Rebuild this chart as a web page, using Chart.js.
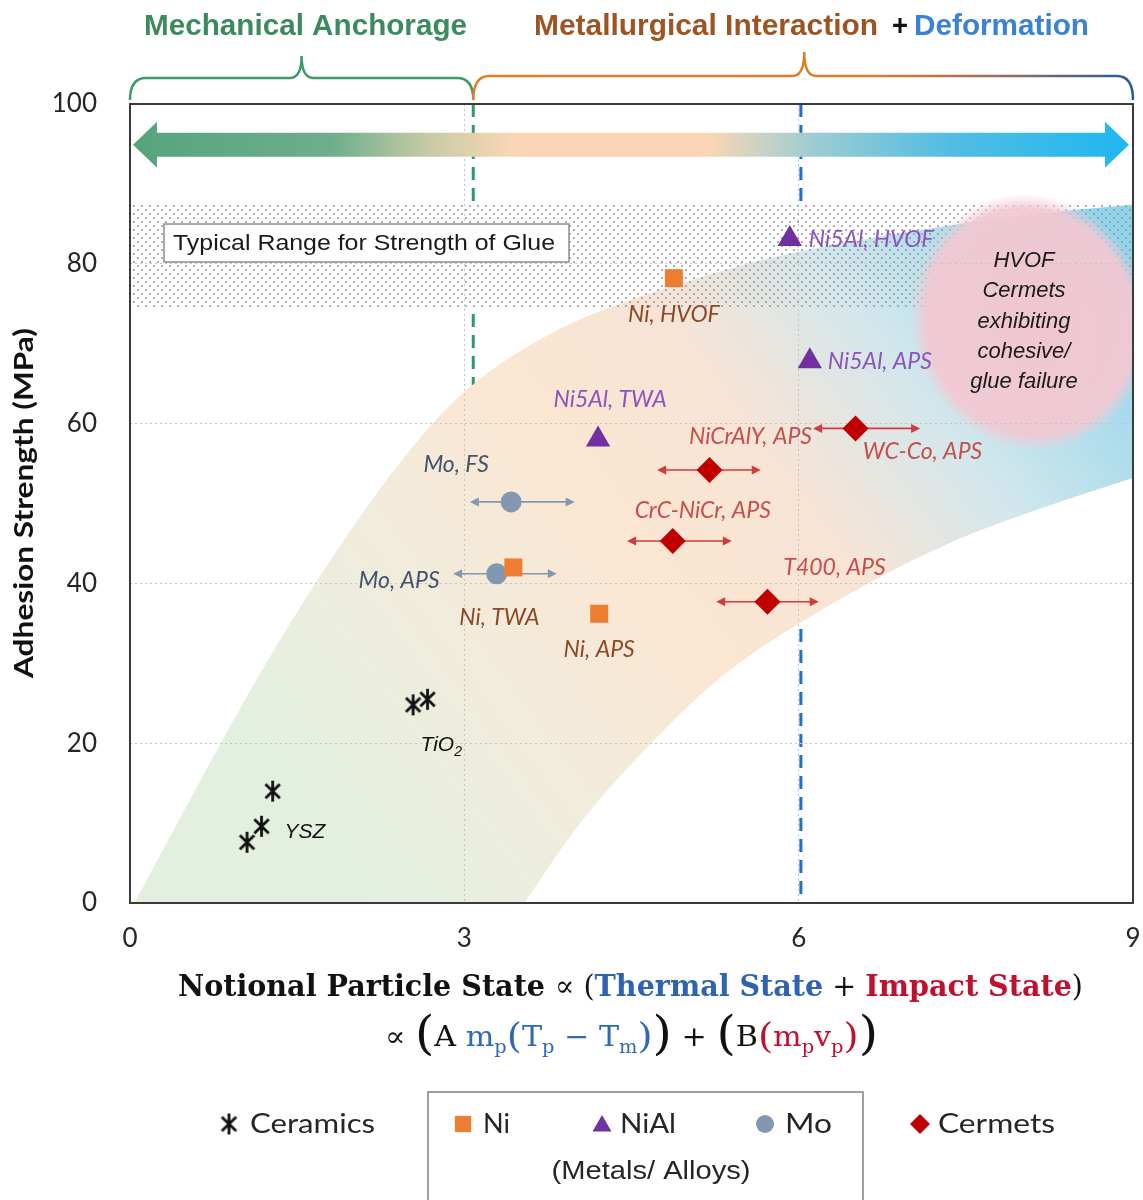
<!DOCTYPE html>
<html>
<head>
<meta charset="utf-8">
<script src="https://cdn.jsdelivr.net/npm/chart.js@4.4.0/dist/chart.umd.min.js"></script>
<style>
  html, body { margin: 0; padding: 0; background: #fff; overflow: hidden; width: 1143px; height: 1200px; }
  canvas { display: block; }
</style>
</head>
<body>
<canvas id="chart" width="1147" height="1200"></canvas>
<script>
// values
const xTicks = [0, 3, 6, 9];
const yTicks = [0, 20, 40, 60, 80, 100];

const ceramicsX = [1.05, 1.18, 1.28, 2.54, 2.67];
const ceramicsY = [7.6, 9.6, 14.0, 24.8, 25.5];

const niX = [4.88, 3.44, 4.21];
const niY = [78.2, 42.0, 36.2];
const niLabels = ['Ni, HVOF', 'Ni, TWA', 'Ni, APS'];

const niAlX = [5.92, 6.10, 4.20];
const niAlY = [83.1, 67.8, 58.0];
const niAlLabels = ['Ni5Al, HVOF', 'Ni5Al, APS', 'Ni5Al, TWA'];

const moX = [3.42, 3.29];
const moY = [50.2, 41.2];
const moLow = [3.05, 2.90];
const moHigh = [3.99, 3.83];
const moLabels = ['Mo, FS', 'Mo, APS'];

const cermetX = [6.51, 5.20, 4.87, 5.72];
const cermetY = [59.4, 54.2, 45.3, 37.7];
const cermetLow = [6.13, 4.73, 4.46, 5.26];
const cermetHigh = [7.09, 5.66, 5.40, 6.18];
const cermetLabels = ['WC-Co, APS', 'NiCrAlY, APS', 'CrC-NiCr, APS', 'T400, APS'];

const glueRange = [74.6, 87.4];
const anchorLimit = 3.08;
const deformLimit = 6.02;

// illustrative band outline (data units)
const bandUpper = [[0.04,0],[0.63,15.4],[1.23,30.4],[1.79,42.9],[2.42,55.4],[3.02,64.8],[3.86,72.3],[4.73,76.7],[5.56,80.2],[6.37,82.6],[7.2,84.5],[7.99,86.1],[9,87.4]];
const bandLower = [[3.54,0],[4.04,10.4],[4.66,19.9],[5.29,28.5],[6.01,35.2],[6.91,42.3],[7.81,47.9],[9,53.2]];

const zip = (xs, ys) => xs.map((x, i) => ({ x: x, y: ys[i] }));

// label placement: dataset index, point index, text, offset, align
const LBL = 'italic 23px Lato';
const labelLayout = [
  { ds: 1, i: 0, text: niLabels[0], dx: 0, dy: 36, align: 'center', color: '#8a4a26' },
  { ds: 1, i: 1, text: niLabels[1], dx: -14, dy: 50, align: 'center', color: '#8a4a26' },
  { ds: 1, i: 2, text: niLabels[2], dx: 0, dy: 36, align: 'center', color: '#8a4a26' },
  { ds: 2, i: 0, text: niAlLabels[0], dx: 19, dy: 1, align: 'left', color: '#8b55bd' },
  { ds: 2, i: 1, text: niAlLabels[1], dx: 18, dy: 0, align: 'left', color: '#8b55bd' },
  { ds: 2, i: 2, text: niAlLabels[2], dx: 12, dy: -40, align: 'center', color: '#8b55bd' },
  { ds: 3, i: 0, text: moLabels[0], dx: -55, dy: -37, align: 'center', color: '#44546a' },
  { ds: 3, i: 1, text: moLabels[1], dx: -57, dy: 7, align: 'right', color: '#44546a' },
  { ds: 4, i: 0, text: cermetLabels[0], dx: 67, dy: 23, align: 'center', color: '#c4504e' },
  { ds: 4, i: 1, text: cermetLabels[1], dx: 41, dy: -33, align: 'center', color: '#c4504e' },
  { ds: 4, i: 2, text: cermetLabels[2], dx: 30, dy: -30, align: 'center', color: '#c4504e' },
  { ds: 4, i: 3, text: cermetLabels[3], dx: 67, dy: -34, align: 'center', color: '#c4504e' }
];

// asterisk marker
function makeAsterisk(size, color) {
  const c = document.createElement('canvas');
  c.width = size; c.height = size;
  const g = c.getContext('2d');
  g.strokeStyle = color; g.lineWidth = 2.8; g.lineCap = 'butt';
  const m = size / 2, r = size / 2 - 1.5;
  g.beginPath();
  g.moveTo(m, 1); g.lineTo(m, size - 1);
  g.moveTo(m - r * 0.72, m - r * 0.7); g.lineTo(m + r * 0.72, m + r * 0.7);
  g.moveTo(m + r * 0.72, m - r * 0.7); g.lineTo(m - r * 0.72, m + r * 0.7);
  g.stroke();
  return c;
}
const asterisk = makeAsterisk(23, '#111');

function fitText(ctx, text, font, color, x, y, width, align) {
  ctx.save();
  ctx.font = font;
  ctx.fillStyle = color;
  ctx.textBaseline = 'middle';
  ctx.textAlign = 'left';
  const w = ctx.measureText(text).width;
  const k = width ? width / w : 1;
  const x0 = align === 'center' ? x - w * k / 2 : align === 'right' ? x - w * k : x;
  ctx.translate(x0, y);
  ctx.scale(k, 1);
  ctx.fillText(text, 0, 0);
  ctx.restore();
}

function richLine(ctx, segs, xL, xR, y) {
  ctx.save();
  let total = 0;
  segs.forEach(s => { ctx.font = s.f; s.w = ctx.measureText(s.t).width; total += s.w; });
  const k = (xR - xL) / total;
  ctx.translate(xL, y);
  ctx.scale(k, 1);
  ctx.textBaseline = 'alphabetic';
  ctx.textAlign = 'left';
  let x = 0;
  segs.forEach(s => {
    ctx.font = s.f; ctx.fillStyle = s.c;
    ctx.fillText(s.t, x, s.dy || 0);
    x += s.w;
  });
  ctx.restore();
}

function smoothTo(ctx, pts) {
  for (let i = 1; i < pts.length - 1; i++) {
    const mx = (pts[i][0] + pts[i + 1][0]) / 2, my = (pts[i][1] + pts[i + 1][1]) / 2;
    ctx.quadraticCurveTo(pts[i][0], pts[i][1], mx, my);
  }
  const l = pts[pts.length - 1];
  ctx.lineTo(l[0], l[1]);
}

function brace(ctx, x0, x1, xt, yEnd, yH, yTip, stroke) {
  ctx.beginPath();
  ctx.moveTo(x0, yEnd);
  ctx.quadraticCurveTo(x0, yH, x0 + 16, yH);
  ctx.lineTo(xt - 12, yH);
  ctx.quadraticCurveTo(xt, yH, xt, yTip);
  ctx.quadraticCurveTo(xt, yH, xt + 12, yH);
  ctx.lineTo(x1 - 16, yH);
  ctx.quadraticCurveTo(x1, yH, x1, yEnd);
  ctx.strokeStyle = stroke;
  ctx.lineWidth = 2.5;
  ctx.stroke();
}

function arrowHead(ctx, x, y, dir, color) {
  ctx.beginPath();
  ctx.moveTo(x, y);
  ctx.lineTo(x - dir * 9, y - 4.5);
  ctx.lineTo(x - dir * 9, y + 4.5);
  ctx.closePath();
  ctx.fillStyle = color;
  ctx.fill();
}

// background layer: region shading behind grid
const backdrop = {
  id: 'backdrop',
  beforeDraw(chart) {
    const { ctx, chartArea: a, scales: { x, y } } = chart;
    ctx.save();
    ctx.fillStyle = '#fff';
    ctx.fillRect(0, 0, chart.width, chart.height);

    ctx.beginPath(); ctx.rect(a.left, a.top, a.right - a.left, a.bottom - a.top); ctx.clip();

    // regime boundaries
    ctx.lineWidth = 3;
    ctx.setLineDash([13, 8]);
    ctx.strokeStyle = '#2e9a6a';
    ctx.beginPath(); ctx.moveTo(x.getPixelForValue(anchorLimit), a.top); ctx.lineTo(x.getPixelForValue(anchorLimit), a.bottom); ctx.stroke();
    ctx.strokeStyle = '#1f6fd0';
    ctx.beginPath(); ctx.moveTo(x.getPixelForValue(deformLimit), a.top); ctx.lineTo(x.getPixelForValue(deformLimit), a.bottom); ctx.stroke();
    ctx.setLineDash([]);

    // glue range, white base
    const gTop = y.getPixelForValue(glueRange[1]), gBot = y.getPixelForValue(glueRange[0]);
    ctx.fillStyle = '#fff';
    ctx.fillRect(a.left, gTop, a.right - a.left, gBot - gTop);

    // shaded band
    const up = bandUpper.map(p => [x.getPixelForValue(p[0]), y.getPixelForValue(p[1])]);
    const lo = bandLower.map(p => [x.getPixelForValue(p[0]), y.getPixelForValue(p[1])]).reverse();
    ctx.beginPath();
    ctx.moveTo(up[0][0], up[0][1]);
    smoothTo(ctx, up);
    ctx.lineTo(lo[0][0], lo[0][1]);
    smoothTo(ctx, lo);
    ctx.closePath();
    const grd = ctx.createLinearGradient(a.left + 170, a.bottom - 100, a.right - 30, a.top + 100);
    grd.addColorStop(0, '#e3f0e0');
    grd.addColorStop(0.22, '#f1ecdc');
    grd.addColorStop(0.42, '#fbe6d2');
    grd.addColorStop(0.58, '#f8e4d5');
    grd.addColorStop(0.74, '#d3e7ec');
    grd.addColorStop(0.88, '#aadcec');
    grd.addColorStop(1, '#8fd4ea');
    ctx.fillStyle = grd;
    ctx.fill();

    // dotted glue pattern
    const pc = document.createElement('canvas');
    pc.width = 8; pc.height = 8;
    const pg = pc.getContext('2d');
    pg.fillStyle = '#9c9c9c';
    pg.beginPath(); pg.arc(2, 2, 1.1, 0, Math.PI * 2); pg.arc(6, 6, 1.1, 0, Math.PI * 2); pg.fill();
    ctx.fillStyle = ctx.createPattern(pc, 'repeat');
    ctx.fillRect(a.left, gTop, a.right - a.left, gBot - gTop);

    // pink failure zone
    ctx.save();
    ctx.translate(1030, 322);
    ctx.rotate(-0.3);
    ctx.scale(1, 1.1);
    const rg = ctx.createRadialGradient(0, 0, 0, 0, 0, 118);
    rg.addColorStop(0, 'rgba(242,198,208,0.98)');
    rg.addColorStop(0.88, 'rgba(242,200,210,0.93)');
    rg.addColorStop(1, 'rgba(242,205,215,0)');
    ctx.fillStyle = rg;
    ctx.beginPath(); ctx.arc(0, 0, 118, 0, Math.PI * 2); ctx.fill();
    ctx.restore();

    ctx.restore();
  }
};

// annotations above grid, below markers
const overlay = {
  id: 'overlay',
  beforeDatasetsDraw(chart) {
    const { ctx, chartArea: a, scales: { x, y } } = chart;
    ctx.save();

    // direction arrow
    const cy = y.getPixelForValue(94.9);
    const L = a.left + 3, R = a.right - 4, hw = 23, sw = 12, hl = 24;
    const ag = ctx.createLinearGradient(L, 0, R, 0);
    ag.addColorStop(0, '#55a47e');
    ag.addColorStop(0.2, '#6fae8c');
    ag.addColorStop(0.3, '#c9cca6');
    ag.addColorStop(0.38, '#f8d6b6');
    ag.addColorStop(0.58, '#f8d6b6');
    ag.addColorStop(0.68, '#9fcdd2');
    ag.addColorStop(0.82, '#52bde3');
    ag.addColorStop(1, '#1fb7ef');
    ctx.fillStyle = ag;
    ctx.beginPath();
    ctx.moveTo(L, cy);
    ctx.lineTo(L + hl, cy - hw);
    ctx.lineTo(L + hl, cy - sw);
    ctx.lineTo(R - hl, cy - sw);
    ctx.lineTo(R - hl, cy - hw);
    ctx.lineTo(R, cy);
    ctx.lineTo(R - hl, cy + hw);
    ctx.lineTo(R - hl, cy + sw);
    ctx.lineTo(L + hl, cy + sw);
    ctx.lineTo(L + hl, cy + hw);
    ctx.closePath();
    ctx.fill();

    // glue label
    ctx.fillStyle = '#fff';
    ctx.strokeStyle = '#8c8c8c';
    ctx.lineWidth = 1.5;
    ctx.fillRect(164, 224, 405, 38);
    ctx.strokeRect(164, 224, 405, 38);
    fitText(ctx, 'Typical Range for Strength of Glue', '22px "Liberation Sans", Arial, sans-serif', '#1a1a1a', 173, 244, 382, 'left');

    // failure zone text
    const lines = ['HVOF', 'Cermets', 'exhibiting', 'cohesive/', 'glue failure'];
    lines.forEach((t, i) => fitText(ctx, t, 'italic 22px "Liberation Sans", Arial, sans-serif', '#1a1a1a', 1024, 261 + i * 30.3, 0, 'center'));

    // horizontal spread bars
    ctx.lineWidth = 1.6;
    const bars = (xs, ys, lo, hi, col) => {
      xs.forEach((_, i) => {
        const py = y.getPixelForValue(ys[i]);
        const x0 = x.getPixelForValue(lo[i]), x1 = x.getPixelForValue(hi[i]);
        ctx.strokeStyle = col;
        ctx.beginPath(); ctx.moveTo(x0 + 4, py); ctx.lineTo(x1 - 4, py); ctx.stroke();
        arrowHead(ctx, x0, py, -1, col);
        arrowHead(ctx, x1, py, 1, col);
      });
    };
    bars(moX, moY, moLow, moHigh, '#8497b0');
    bars(cermetX, cermetY, cermetLow, cermetHigh, '#d13b3b');

    // frame
    ctx.strokeStyle = '#3a3a3a';
    ctx.lineWidth = 2;
    ctx.strokeRect(a.left, a.top, a.right - a.left, a.bottom - a.top);
    ctx.restore();
  },
  afterDatasetsDraw(chart) {
    const { ctx } = chart;
    ctx.save();
    ctx.font = LBL;
    ctx.textBaseline = 'middle';
    labelLayout.forEach(l => {
      const pt = chart.getDatasetMeta(l.ds).data[l.i];
      ctx.fillStyle = l.color;
      ctx.textAlign = l.align;
      ctx.fillText(l.text, pt.x + l.dx, pt.y + l.dy);
    });
    // ceramic labels
    const cm = chart.getDatasetMeta(0).data;
    ctx.fillStyle = '#111';
    ctx.textAlign = 'left';
    ctx.font = 'italic 21px "Liberation Sans", Arial, sans-serif';
    const tx = cm[4].x - 7, ty = cm[4].y + 46;
    ctx.fillText('TiO', tx, ty);
    const tw = ctx.measureText('TiO').width;
    ctx.font = 'italic 14px "Liberation Sans", Arial, sans-serif';
    ctx.fillText('2', tx + tw, ty + 7);
    ctx.font = 'italic 21px "Liberation Sans", Arial, sans-serif';
    ctx.fillText('YSZ', cm[1].x + 23, cm[1].y + 6);
    ctx.restore();
  },
  afterDraw(chart) {
    const { ctx, chartArea: a, scales: { x } } = chart;
    ctx.save();
    // regime headings
    const narrow = 'bold 30px "Liberation Sans Narrow", "Liberation Sans", Arial, sans-serif';
    fitText(ctx, 'Mechanical Anchorage', narrow, '#3b8b5f', 144, 27, 323, 'left');
    fitText(ctx, 'Metallurgical Interaction', narrow, '#9c5522', 534, 27, 344, 'left');
    fitText(ctx, '+', narrow, '#111', 892, 27, 16, 'left');
    fitText(ctx, 'Deformation', narrow, '#3b82d6', 914, 27, 175, 'left');

    // braces
    const xa = x.getPixelForValue(anchorLimit);
    brace(ctx, a.left, xa, x.getPixelForValue(1.54), 100, 78, 56, '#3c9b6e');
    const og = ctx.createLinearGradient(xa, 0, a.right, 0);
    og.addColorStop(0, '#e17e2b');
    og.addColorStop(0.6, '#dc7d2d');
    og.addColorStop(0.8, '#9a6a60');
    og.addColorStop(1, '#2a58a6');
    brace(ctx, xa, a.right, x.getPixelForValue(6.05), 100, 76, 52, og);

    // y title
    ctx.save();
    ctx.translate(25, 503);
    ctx.rotate(-Math.PI / 2);
    fitText(ctx, 'Adhesion Strength (MPa)', 'bold 26px Lato, sans-serif', '#111', 0, 0, 350, 'center');
    ctx.restore();

    // x title
    const sb = 'bold 30px "DejaVu Serif", serif';
    const sn = '30px "DejaVu Serif", serif';
    richLine(ctx, [
      { t: 'Notional Particle State ', f: sb, c: '#111' },
      { t: '\u221D ', f: sn, c: '#111' },
      { t: '(', f: sn, c: '#111' },
      { t: 'Thermal State', f: sb, c: '#2e64ad' },
      { t: ' + ', f: sn, c: '#111' },
      { t: 'Impact State', f: sb, c: '#c01030' },
      { t: ')', f: sn, c: '#111' }
    ], 178, 1083, 996);

    const m = '28px "DejaVu Serif", serif', s = '18px "DejaVu Serif", serif';
    const big = '46px "DejaVu Serif", serif', mid = '36px "DejaVu Serif", serif';
    const B = '#2e6ab5', Rd = '#c01030', K = '#111';
    richLine(ctx, [
      { t: '\u221D ', f: m, c: K },
      { t: '(', f: big, c: K, dy: 3 },
      { t: 'A ', f: m, c: K },
      { t: 'm', f: m, c: B }, { t: 'p', f: s, c: B, dy: 7 },
      { t: '(', f: mid, c: B, dy: 2 },
      { t: 'T', f: m, c: B }, { t: 'p', f: s, c: B, dy: 7 },
      { t: ' \u2212 T', f: m, c: B }, { t: 'm', f: s, c: B, dy: 7 },
      { t: ')', f: mid, c: B, dy: 2 },
      { t: ')', f: big, c: K, dy: 3 },
      { t: ' + ', f: m, c: K },
      { t: '(', f: big, c: K, dy: 3 },
      { t: 'B', f: m, c: K },
      { t: '(', f: mid, c: Rd, dy: 2 },
      { t: 'm', f: m, c: Rd }, { t: 'p', f: s, c: Rd, dy: 7 },
      { t: 'v', f: m, c: Rd }, { t: 'p', f: s, c: Rd, dy: 7 },
      { t: ')', f: mid, c: Rd, dy: 2 },
      { t: ')', f: big, c: K, dy: 3 }
    ], 385, 878, 1046);

    // legend
    const H = Chart.helpers;
    const ly = 1124;
    const lf = '27px Lato, sans-serif';
    ctx.drawImage(asterisk, 229 - 11.5, ly - 11.5);
    fitText(ctx, 'Ceramics', lf, '#262626', 250, ly, 125, 'left');
    ctx.strokeStyle = '#7f7f7f';
    ctx.lineWidth = 1.5;
    ctx.strokeRect(428, 1092, 435, 120);
    ctx.fillStyle = '#ed7d31';
    H.drawPoint(ctx, { pointStyle: 'rect', radius: 11.5, rotation: 0, borderWidth: 0 }, 463, ly);
    fitText(ctx, 'Ni', lf, '#262626', 483, ly, 27, 'left');
    ctx.fillStyle = '#7030a0';
    H.drawPoint(ctx, { pointStyle: 'triangle', radius: 11, rotation: 0, borderWidth: 0 }, 602, ly + 2);
    fitText(ctx, 'NiAl', lf, '#262626', 620, ly, 56, 'left');
    ctx.fillStyle = '#8497b0';
    H.drawPoint(ctx, { pointStyle: 'circle', radius: 9, rotation: 0, borderWidth: 0 }, 765, ly);
    fitText(ctx, 'Mo', lf, '#262626', 785, ly, 47, 'left');
    fitText(ctx, '(Metals/ Alloys)', '25px "Liberation Sans", Arial, sans-serif', '#262626', 651, 1172, 199, 'center');
    ctx.fillStyle = '#c00000';
    H.drawPoint(ctx, { pointStyle: 'rectRot', radius: 10, rotation: 0, borderWidth: 0 }, 920, ly);
    fitText(ctx, 'Cermets', lf, '#262626', 938, ly, 117, 'left');
    ctx.restore();
  }
};

const tickFont = { family: 'Lato, sans-serif', size: 26 };

new Chart(document.getElementById('chart'), {
  type: 'scatter',
  data: {
    datasets: [
      { label: 'Ceramics', data: zip(ceramicsX, ceramicsY), pointStyle: asterisk, pointRadius: 11 },
      { label: 'Ni', data: zip(niX, niY), pointStyle: 'rect', pointRadius: 12.7, backgroundColor: '#ed7d31', borderWidth: 0 },
      { label: 'NiAl', data: zip(niAlX, niAlY), pointStyle: 'triangle', pointRadius: 14, backgroundColor: '#7030a0', borderWidth: 0 },
      { label: 'Mo', data: zip(moX, moY), pointStyle: 'circle', pointRadius: 10.5, backgroundColor: '#8497b0', borderWidth: 0 },
      { label: 'Cermets', data: zip(cermetX, cermetY), pointStyle: 'rectRot', pointRadius: 13, backgroundColor: '#c00000', borderWidth: 0 }
    ]
  },
  options: {
    responsive: false,
    animation: false,
    devicePixelRatio: 1,
    events: [],
    layout: { padding: { top: 104, right: 6, bottom: 0, left: 0 } },
    plugins: { legend: { display: false }, tooltip: { enabled: false } },
    scales: {
      x: {
        type: 'linear', min: 0, max: 9,
        afterBuildTicks: s => { s.ticks = xTicks.map(v => ({ value: v })); },
        afterFit: s => { s.height = 297; s.paddingLeft = 0; s.paddingRight = 0; },
        ticks: { font: tickFont, color: '#262626', padding: 20, maxRotation: 0 },
        grid: { color: '#c4c4c4', drawTicks: false, lineWidth: 1 },
        border: { display: false, dash: [2, 3] }
      },
      y: {
        type: 'linear', min: 0, max: 100,
        afterBuildTicks: s => { s.ticks = yTicks.map(v => ({ value: v })); },
        afterFit: s => { s.width = 130; s.paddingTop = 0; s.paddingBottom = 0; },
        ticks: { font: tickFont, color: '#262626', padding: 33 },
        grid: { color: '#c4c4c4', drawTicks: false, lineWidth: 1 },
        border: { display: false, dash: [2, 3] }
      }
    }
  },
  plugins: [backdrop, overlay]
});
</script>
</body>
</html>
